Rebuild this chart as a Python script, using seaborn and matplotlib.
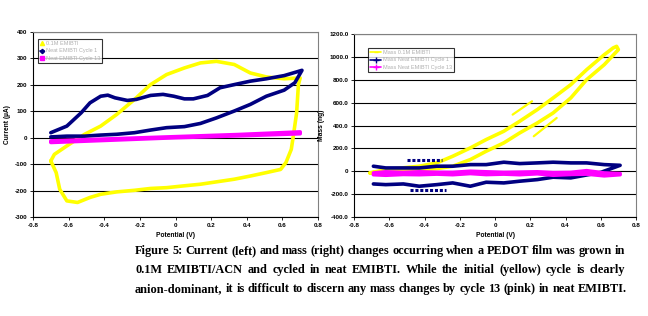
import numpy as np
import pandas as pd
import seaborn as sns
import matplotlib.pyplot as plt
from matplotlib.lines import Line2D
from matplotlib.ticker import FuncFormatter

# ---------------- data ----------------
# Left: current vs potential
cv_yellow_v = [-0.70, -0.68, -0.61, -0.51, -0.42, -0.33, -0.23, -0.14, -0.05, 0.05, 0.14, 0.23,
               0.33, 0.42, 0.51, 0.61, 0.70, 0.69, 0.68, 0.66, 0.65, 0.62, 0.59, 0.51, 0.42, 0.33,
               0.23, 0.14, 0.05, -0.05, -0.14, -0.23, -0.33, -0.42, -0.48, -0.55, -0.61, -0.65,
               -0.67, -0.70]
cv_yellow_i = [-88, -63, -31, 13, 44, 88, 145, 201, 239, 264, 283, 289,
               277, 245, 230, 223, 226, 201, 94, 0, -44, -94, -120, -132, -145, -157,
               -167, -176, -182, -189, -192, -199, -205, -214, -226, -245, -239, -195,
               -132, -88]

cv_navy_v = [-0.70, -0.61, -0.53, -0.48, -0.42, -0.38, -0.34, -0.27, -0.22, -0.14, -0.07, -0.01,
             0.05, 0.10, 0.18, 0.25, 0.33, 0.42, 0.51, 0.61, 0.71, 0.67, 0.61, 0.51, 0.42, 0.33,
             0.23, 0.14, 0.05, -0.05, -0.14, -0.23, -0.33, -0.42, -0.51, -0.61, -0.70]
cv_navy_i = [19, 44, 94, 132, 157, 161, 151, 141, 145, 160, 164, 157,
             147, 147, 160, 189, 201, 214, 223, 235, 255, 208, 180, 157, 126, 101,
             75, 54, 42, 38, 29, 19, 13, 10, 6, 6, 3]

cv_pink_v = [-0.70, -0.35, 0.00, 0.35, 0.70, 0.70, 0.35, 0.00, -0.35, -0.70]
cv_pink_i = [-12, -4, 4, 12, 22, 15, 7, 0, -9, -18]

# Right: mass vs potential
m_yellow_v = [-0.71, -0.62, -0.43, -0.33, -0.24, -0.14, -0.05, 0.05, 0.14, 0.24, 0.33, 0.43,
              0.52, 0.62, 0.67, 0.69, 0.70, 0.62, 0.52, 0.43, 0.33, 0.24, 0.14, 0.05, -0.05,
              -0.14, -0.24, -0.33, -0.43, -0.52, -0.62, -0.71]
m_yellow_m = [-15, 15, 44, 73, 131, 204, 277, 350, 437, 539, 641, 757,
              888, 1019, 1078, 1092, 1063, 932, 801, 641, 510, 422, 335, 248, 175,
              102, 44, 23, 15, 0, 0, -15]
m_yellow_frag1_v = [0.10, 0.21]
m_yellow_frag1_m = [495, 612]
m_yellow_frag2_v = [0.22, 0.35]
m_yellow_frag2_m = [306, 466]

m_navy_v = [-0.69, -0.62, -0.52, -0.43, -0.33, -0.24, -0.14, -0.05, 0.05, 0.14, 0.24, 0.33,
            0.43, 0.52, 0.62, 0.71, 0.60, 0.48, 0.43, 0.33, 0.24, 0.14, 0.05, -0.05, -0.14,
            -0.24, -0.33, -0.43, -0.52, -0.62, -0.69]
m_navy_m = [44, 29, 29, 29, 44, 44, 58, 58, 79, 67, 73, 79,
            73, 73, 58, 52, -10, -44, -58, -52, -73, -87, -102, -96, -131,
            -102, -117, -131, -111, -117, -111]
m_navy_frag1_v = [-0.50, -0.30]
m_navy_frag1_m = [96, 96]
m_navy_frag2_v = [-0.48, -0.28]
m_navy_frag2_m = [-166, -166]

m_pink_v = [-0.69, -0.62, -0.52, -0.43, -0.33, -0.24, -0.14, -0.05, 0.05, 0.14, 0.24, 0.33,
            0.43, 0.52, 0.62, 0.71, 0.71, 0.62, 0.52, 0.43, 0.33, 0.24, 0.14, 0.05, -0.05,
            -0.14, -0.24, -0.33, -0.43, -0.52, -0.62, -0.69]
m_pink_m = [-15, -5, -10, -5, -9, -10, 0, -5, -10, -8, -5, -12,
            -10, 5, -15, -20, -30, -40, -25, -28, -35, -22, -30, -25, -29,
            -20, -30, -25, -30, -28, -35, -30]

xticks = [-0.8, -0.6, -0.4, -0.2, 0, 0.2, 0.4, 0.6, 0.8]
left_yticks = [400, 300, 200, 100, 0, -100, -200, -300]
right_yticks = [1200, 1000, 800, 600, 400, 200, 0, -200, -400]

left_names = ["0.1M EMIBTI", "Neat EMIBTI Cycle 1", "Neat EMIBTI Cycle 13"]
right_names = ["Mass 0.1M EMIBTI", "Mass Neat EMIBTI Cycle 1", "Mass Neat EMIBTI Cycle 13"]
colors = ["#FFFF00", "#000080", "#FF00FF"]

caption = [
    "Figure 5: Current (left) and mass (right) changes occurring when a PEDOT film was grown in",
    "0.1M EMIBTI/ACN and cycled in neat EMIBTI.  While the initial (yellow) cycle is clearly",
    "anion-dominant, it is difficult to discern any mass changes by cycle 13 (pink) in neat EMIBTI.",
]

# ---------------- build frames ----------------
def build(segments):
    rows = []
    for name, seg, xs, ys in segments:
        for x, y in zip(xs, ys):
            rows.append({"series": name, "seg": seg, "x": x, "y": y})
    return pd.DataFrame(rows)

df_left = build([
    (left_names[0], 0, cv_yellow_v, cv_yellow_i),
    (left_names[1], 1, cv_navy_v, cv_navy_i),
    (left_names[2], 2, cv_pink_v, cv_pink_i),
])
df_right_main = build([
    (right_names[0], 0, m_yellow_v, m_yellow_m),
    (right_names[1], 3, m_navy_v, m_navy_m),
    (right_names[2], 6, m_pink_v, m_pink_m),
])
df_right_frag = build([
    (right_names[0], 1, m_yellow_frag1_v, m_yellow_frag1_m),
    (right_names[0], 2, m_yellow_frag2_v, m_yellow_frag2_m),
    (right_names[1], 4, m_navy_frag1_v, m_navy_frag1_m),
    (right_names[1], 5, m_navy_frag2_v, m_navy_frag2_m),
])

# ---------------- plot ----------------
sns.set_theme(style="white")
plt.rcParams["font.family"] = ["Liberation Sans", "DejaVu Sans"]
plt.rcParams["text.color"] = "black"
plt.rcParams["xtick.color"] = "black"
plt.rcParams["ytick.color"] = "black"
plt.rcParams["axes.labelcolor"] = "black"

fig = plt.figure(figsize=(6.48, 3.16), dpi=100)
W, H = 648, 316
axL = fig.add_axes([33 / W, 1 - 217 / H, (318 - 33) / W, (217 - 32) / H])
axR = fig.add_axes([354 / W, 1 - 217 / H, (636 - 354) / W, (217 - 34) / H])

sns.lineplot(data=df_left, x="x", y="y", hue="series", units="seg", estimator=None,
             sort=False, palette=dict(zip(left_names, colors)), hue_order=left_names,
             linewidth=2.6, legend=False, ax=axL)
sns.lineplot(data=df_right_main, x="x", y="y", hue="series", units="seg", estimator=None,
             sort=False, palette=dict(zip(right_names, colors)), hue_order=right_names,
             linewidth=2.6, legend=False, ax=axR)
sns.lineplot(data=df_right_frag, x="x", y="y", hue="series", units="seg", estimator=None,
             sort=False, palette=dict(zip(right_names, colors)), hue_order=right_names,
             linewidth=1.6, legend=False, ax=axR)
for ln in axR.get_lines()[-4:]:
    if ln.get_color() in ("#000080",):
        ln.set_linestyle((0, (1, 0.6)))
        ln.set_linewidth(2.2)

def style_axis(ax, yticks, ylim, ylabel, yfmt):
    ax.set_xlim(-0.8, 0.8)
    ax.set_ylim(*ylim)
    ax.set_xticks(xticks)
    ax.set_yticks(yticks)
    ax.xaxis.set_major_formatter(FuncFormatter(lambda v, p: "0" if abs(v) < 1e-9 else f"{v:g}"))
    ax.yaxis.set_major_formatter(FuncFormatter(yfmt))
    ax.grid(axis="y", color="black", linewidth=0.8)
    ax.grid(axis="x", visible=False)
    ax.set_axisbelow(True)
    for s in ("left", "bottom"):
        ax.spines[s].set_color("black")
        ax.spines[s].set_linewidth(0.8)
    for s in ("top", "right"):
        ax.spines[s].set_color("#808080")
        ax.spines[s].set_linewidth(0.8)
    ax.tick_params(axis="both", which="major", labelsize=4.5, length=2.5, width=0.6,
                   direction="out", color="black", labelcolor="black", pad=1.5,
                   bottom=True, left=True)
    for lab in ax.get_xticklabels() + ax.get_yticklabels():
        lab.set_fontweight("bold")
    ax.set_xlabel("Potential (V)", fontsize=4.8, fontweight="bold", labelpad=3, color="black")
    ax.set_ylabel(ylabel, fontsize=4.8, fontweight="bold", labelpad=3, color="black")
    ax.set_facecolor("white")

style_axis(axL, left_yticks, (-300, 400), "Current (\u00b5A)",
           lambda v, p: f"{v:g}")
style_axis(axR, right_yticks, (-400, 1200), "Mass (ng)",
           lambda v, p: "0" if abs(v) < 1e-9 else f"{v:.1f}")

# legends
hL = [
    Line2D([], [], color=colors[0], marker="^", linestyle="none", markersize=3),
    Line2D([], [], color=colors[1], marker="D", linestyle="-", linewidth=1.2, markersize=2.2),
    Line2D([], [], color=colors[2], marker="s", linestyle="none", markersize=3),
]
legL = axL.legend(hL, left_names, loc="upper left", bbox_to_anchor=(5 / 285, 1 - 7 / 185),
                  fontsize=4, frameon=True, fancybox=False, edgecolor="black",
                  handlelength=0.8, handletextpad=0.2, borderpad=0.35, labelspacing=0.45,
                  borderaxespad=0)
legL.get_frame().set_linewidth(0.8)
for t in legL.get_texts():
    t.set_color("#b0b0b0")

hR = [
    Line2D([], [], color=colors[0], marker="_", linestyle="-", linewidth=1.2, markersize=3),
    Line2D([], [], color=colors[1], marker="+", linestyle="-", linewidth=1.2, markersize=4),
    Line2D([], [], color=colors[2], marker="+", linestyle="-", linewidth=1.2, markersize=4),
]
legR = axR.legend(hR, right_names, loc="upper left", bbox_to_anchor=(14 / 282, 1 - 14 / 183),
                  fontsize=4, frameon=True, fancybox=False, edgecolor="black",
                  handlelength=2.0, handletextpad=0.4, borderpad=0.35, labelspacing=0.45,
                  borderaxespad=0)
legR.get_frame().set_linewidth(0.8)
for t in legR.get_texts():
    t.set_color("#b0b0b0")

# caption, justified between x0 and x1 (pixels)
def justified(text, x0, x1, y, **kw):
    renderer = fig.canvas.get_renderer()
    words = [w for w in text.split(" ") if w]
    objs = [fig.text(0, y, w, va="center", ha="left", **kw) for w in words]
    widths = [o.get_window_extent(renderer).width for o in objs]
    gap = ((x1 - x0) - sum(widths)) / (len(words) - 1)
    pos = x0
    for o, w in zip(objs, widths):
        o.set_x(pos / W)
        pos += w + gap

cap_kw = dict(fontsize=8.8, fontweight="bold", color="black",
              family=["Liberation Serif", "DejaVu Serif"])
justified(caption[0], 135, 625, 1 - 251 / H, **cap_kw)
justified(caption[1], 135, 625, 1 - 270 / H, **cap_kw)
justified(caption[2], 135, 627, 1 - 289 / H, **cap_kw)

fig.savefig("out.png", dpi=100, facecolor="white")
